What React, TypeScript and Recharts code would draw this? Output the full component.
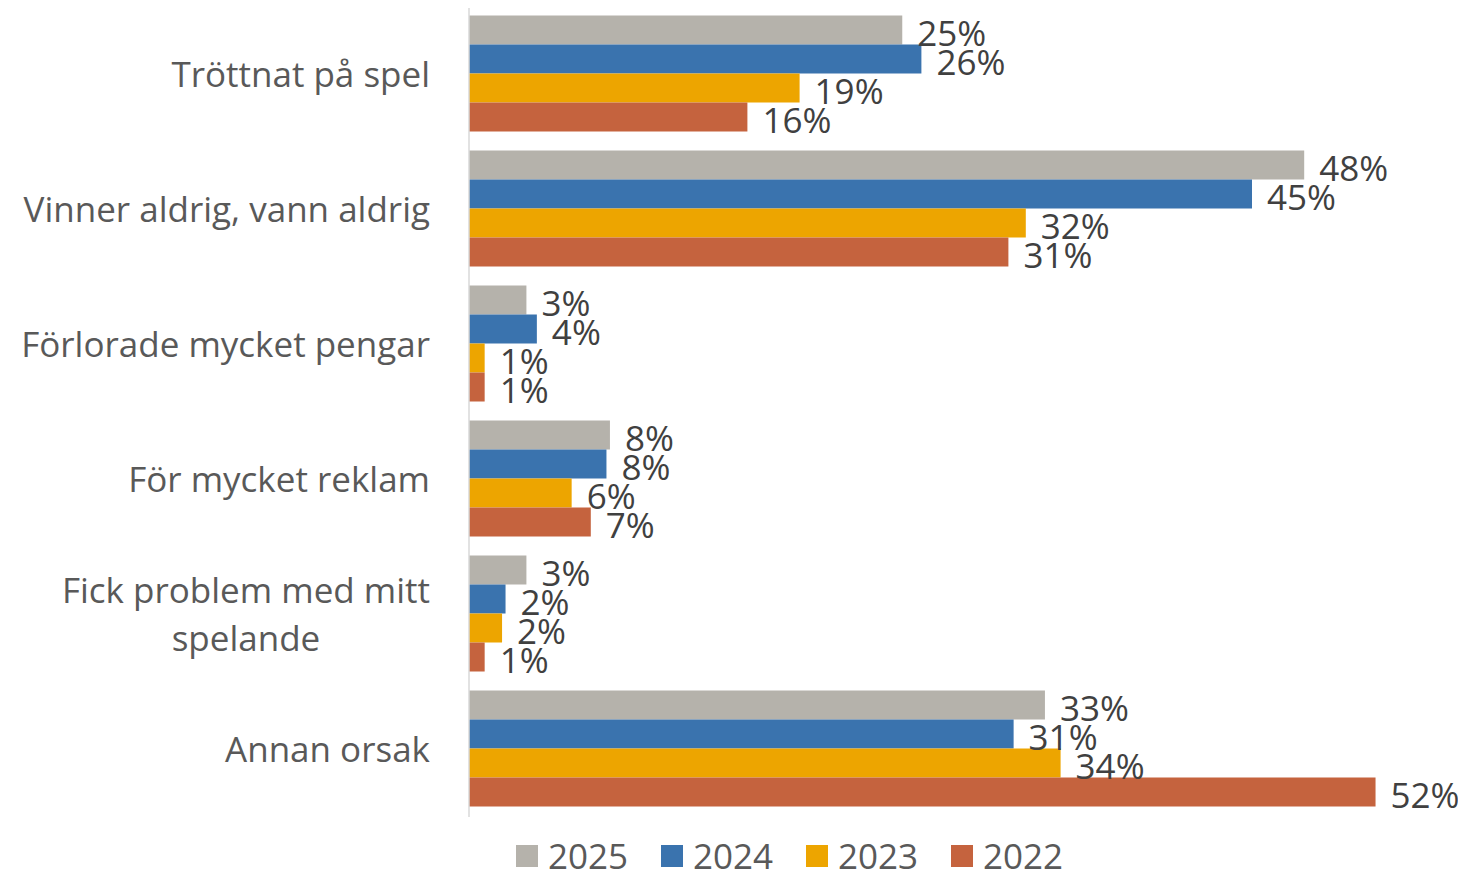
import { BarChart, Bar, XAxis, YAxis, LabelList } from "recharts";

const CATEGORIES = [
  "Tröttnat på spel",
  "Vinner aldrig, vann aldrig",
  "Förlorade mycket pengar",
  "För mycket reklam",
  "Fick problem med mitt spelande",
  "Annan orsak",
];

const SERIES = ["2025", "2024", "2023", "2022"];
const COLORS = ["#B5B2AB", "#3A73AE", "#EDA500", "#C5633E"];

const Y2025 = [24.9, 48.0, 3.3, 8.1, 3.3, 33.1];
const Y2024 = [26.0, 45.0, 3.9, 7.9, 2.1, 31.3];
const Y2023 = [19.0, 32.0, 0.9, 5.9, 1.9, 34.0];
const Y2022 = [16.0, 31.0, 0.9, 7.0, 0.9, 52.1];

const VALUES = [Y2025, Y2024, Y2023, Y2022];

const data = CATEGORIES.map((c, i) => {
  const row: Record<string, string | number> = { name: c };
  SERIES.forEach((s, j) => {
    row[s] = VALUES[j][i];
  });
  return row;
});

const FONT = "'Open Sans', 'Noto Sans', sans-serif";

let ctx: CanvasRenderingContext2D | null = null;
function textWidth(t: string): number {
  if (!ctx) ctx = document.createElement("canvas").getContext("2d");
  if (!ctx) return t.length * 17;
  ctx.font = `35px ${FONT}`;
  return ctx.measureText(t).width;
}

function wrapLabel(text: string): string[] {
  if (text.length <= 28) return [text];
  const cut = text.lastIndexOf(" ", 22);
  return [text.slice(0, cut), text.slice(cut + 1)];
}

function CategoryTick(props: any) {
  const { x, y, payload } = props;
  const lines = wrapLabel(String(payload.value));
  const lh = 48;
  const start = y - ((lines.length - 1) * lh) / 2;
  // wrapped lines are centred on each other, block right-aligned
  const w = Math.max(...lines.map(textWidth));
  const cx = lines.length > 1 ? x - w / 2 : x;
  return (
    <text
      x={cx}
      y={start}
      textAnchor={lines.length > 1 ? "middle" : "end"}
      fill="#595959"
      fontSize={35}
      fontFamily={FONT}
    >
      {lines.map((l, i) => (
        <tspan key={i} x={cx} y={start + i * lh} dy="0.35em">
          {l}
        </tspan>
      ))}
    </text>
  );
}

function ValueLabel(props: any) {
  const { x, y, width, height, value } = props;
  return (
    <text
      x={x + width + 15}
      y={y + height / 2 + 4}
      dy="0.35em"
      fill="#404040"
      fontSize={35}
      fontFamily={FONT}
    >
      {Math.round(value)}%
    </text>
  );
}

export default function App() {
  return (
    <div
      style={{
        position: "relative",
        width: 1466,
        height: 874,
        margin: "-8px 0 0 -8px",
      }}
    >
      <BarChart
        width={1466}
        height={874}
        data={data}
        layout="vertical"
        margin={{ top: 7, right: 40, bottom: 57, left: 0 }}
        barCategoryGap="6.3%"
        barGap={0}
      >
        <XAxis type="number" domain={[0, 55]} hide />
        <YAxis
          type="category"
          dataKey="name"
          width={469}
          axisLine={{ stroke: "#D9D9D9", strokeWidth: 1.5 }}
          tickLine={false}
          tickMargin={33}
          tick={<CategoryTick />}
          interval={0}
        />
        {SERIES.map((s, i) => (
          <Bar key={s} dataKey={s} fill={COLORS[i]} isAnimationActive={false}>
            <LabelList dataKey={s} content={<ValueLabel />} />
          </Bar>
        ))}
      </BarChart>
      <div
        style={{
          position: "absolute",
          left: 516,
          top: 838,
          display: "flex",
          fontFamily: FONT,
          fontSize: 35,
          color: "#595959",
        }}
      >
        {SERIES.map((s, i) => (
          <div
            key={s}
            style={{
              width: 145,
              height: 36,
              display: "flex",
              alignItems: "center",
            }}
          >
            <span
              style={{
                width: 22,
                height: 22,
                background: COLORS[i],
                marginRight: 10,
                display: "inline-block",
              }}
            />
            <span style={{ lineHeight: "36px" }}>{s}</span>
          </div>
        ))}
      </div>
    </div>
  );
}
